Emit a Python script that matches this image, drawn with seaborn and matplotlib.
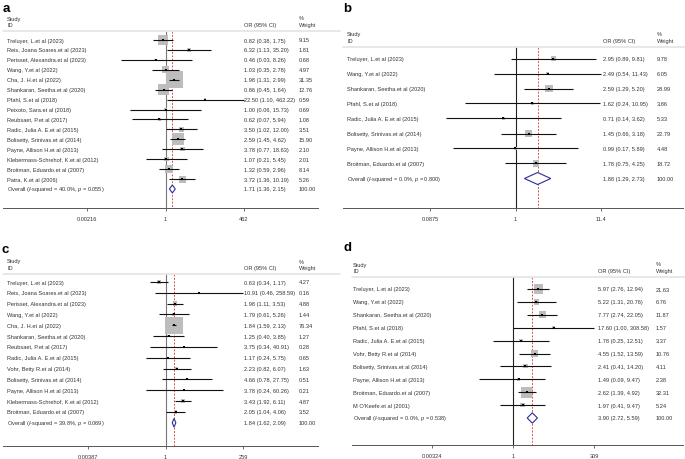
import numpy as np
import pandas as pd
import matplotlib
matplotlib.use("Agg")
import matplotlib.pyplot as plt
import matplotlib.transforms as mtransforms
from matplotlib.ticker import NullLocator
import seaborn as sns

# ---------------- data ----------------
a_studies = ["Treluyer, L.et al (2023)", "Reis, Joana Soares.et al (2023)",
             "Perisset, Alexandra.et al (2023)", "Wang, Y.et al (2022)",
             "Cha, J. H.et al (2022)", "Shankaran, Seetha.et al (2020)",
             "Pfahl, S.et al (2018)", "Peixoto, Sara.et al (2018)",
             "Reubsaet, P.et al (2017)", "Radic, Julia A. E.et al (2015)",
             "Bolisetty, Srinivas.et al (2014)", "Payne, Allison H.et al (2013)",
             "Klebermass-Schrehof, K.et al (2012)", "Broitman, Eduardo.et al (2007)",
             "Patra, K.et al (2006)"]
a_or = [0.82, 6.32, 0.46, 1.03, 1.98, 0.86, 22.50, 1.00, 0.62, 3.50, 2.59, 3.78, 1.07, 1.32, 3.72]
a_lo = [0.38, 1.13, 0.03, 0.35, 1.31, 0.45, 1.10, 0.06, 0.07, 1.02, 1.45, 0.77, 0.21, 0.59, 1.36]
a_hi = [1.75, 35.20, 8.26, 2.78, 2.99, 1.64, 462.22, 15.73, 5.94, 12.00, 4.62, 18.63, 5.45, 2.96, 10.19]
a_wt = [9.15, 1.81, 0.68, 4.97, 31.35, 12.76, 0.59, 0.69, 1.08, 3.51, 15.90, 2.10, 2.01, 8.14, 5.26]
a_overall = [1.71, 1.36, 2.15]
a_i2, a_p = "40.0%", "0.055"
a_ticks = [0.00216, 1, 462]
a_ticklabels = ["0.00216", "1", "462"]

b_studies = ["Treluyer, L.et al (2023)", "Wang, Y.et al (2022)",
             "Shankaran, Seetha.et al (2020)", "Pfahl, S.et al (2018)",
             "Radic, Julia A. E.et al (2015)", "Bolisetty, Srinivas.et al (2014)",
             "Payne, Allison H.et al (2013)", "Broitman, Eduardo.et al (2007)"]
b_or = [2.95, 2.49, 2.59, 1.62, 0.71, 1.45, 0.99, 1.78]
b_lo = [0.89, 0.54, 1.29, 0.24, 0.14, 0.66, 0.17, 0.75]
b_hi = [9.81, 11.43, 5.20, 10.95, 3.62, 3.18, 5.89, 4.25]
b_wt = [9.78, 6.05, 28.99, 3.86, 5.33, 22.79, 4.48, 18.72]
b_overall = [1.88, 1.29, 2.73]
b_i2, b_p = "0.0%", "0.800"
b_ticks = [0.0875, 1, 11.4]
b_ticklabels = ["0.0875", "1", "11.4"]

c_studies = ["Treluyer, L.et al (2023)", "Reis, Joana Soares.et al (2023)",
             "Perisset, Alexandra.et al (2023)", "Wang, Y.et al (2022)",
             "Cha, J. H.et al (2022)", "Shankaran, Seetha.et al (2020)",
             "Reubsaet, P.et al (2017)", "Radic, Julia A. E.et al (2015)",
             "Vohr, Betty R.et al (2014)", "Bolisetty, Srinivas.et al (2014)",
             "Payne, Allison H.et al (2013)", "Klebermass-Schrehof, K.et al (2012)",
             "Broitman, Eduardo.et al (2007)"]
c_or = [0.63, 10.91, 1.98, 1.79, 1.84, 1.25, 3.75, 1.17, 2.23, 4.66, 3.78, 3.43, 2.05]
c_lo = [0.34, 0.46, 1.11, 0.61, 1.59, 0.40, 0.34, 0.24, 0.82, 0.78, 0.24, 1.92, 1.04]
c_hi = [1.17, 258.59, 3.53, 5.26, 2.13, 3.85, 40.91, 5.75, 6.07, 27.75, 60.26, 6.11, 4.06]
c_wt = [4.27, 0.16, 4.88, 1.44, 76.34, 1.27, 0.28, 0.65, 1.63, 0.51, 0.21, 4.87, 3.52]
c_overall = [1.84, 1.62, 2.09]
c_i2, c_p = "39.8%", "0.069"
c_ticks = [0.00387, 1, 259]
c_ticklabels = ["0.00387", "1", "259"]

d_studies = ["Treluyer, L.et al (2023)", "Wang, Y.et al (2022)",
             "Shankaran, Seetha.et al (2020)", "Pfahl, S.et al (2018)",
             "Radic, Julia A. E.et al (2015)", "Vohr, Betty R.et al (2014)",
             "Bolisetty, Srinivas.et al (2014)", "Payne, Allison H.et al (2013)",
             "Broitman, Eduardo.et al (2007)", "M O'Keefe.et al (2001)"]
d_or = [5.97, 5.22, 7.77, 17.60, 1.78, 4.55, 2.41, 1.49, 2.62, 1.97]
d_lo = [2.76, 1.31, 2.74, 1.00, 0.25, 1.52, 0.41, 0.09, 1.39, 0.41]
d_hi = [12.94, 20.76, 22.05, 308.58, 12.51, 13.59, 14.20, 9.47, 4.92, 9.47]
d_wt = [21.63, 6.76, 11.87, 1.57, 3.37, 10.76, 4.11, 2.38, 32.31, 5.24]
d_overall = [3.90, 2.72, 5.59]
d_i2, d_p = "0.0%", "0.538"
d_ticks = [0.00324, 1, 309]
d_ticklabels = ["0.00324", "1", "309"]

# ---------------- style ----------------
sns.set_theme(style="white")
plt.rcParams["font.family"] = ["Liberation Sans", "DejaVu Sans"]
plt.rcParams["mathtext.fontset"] = "custom"
plt.rcParams["mathtext.rm"] = "Liberation Sans"
plt.rcParams["mathtext.it"] = "Liberation Sans:italic"

W, H = 685, 460
fig = plt.figure(figsize=(W / 100, H / 100), dpi=100)

FS = 4.1
TXT = "#333333"
BOX = "#bdbdbd"
NAVY = "#2b2b9a"
RED = "#d9534f"

layouts = {
    "a": dict(px0=0, pw=340, top=0, one=165.5, scale=12.75, row0=41, dy=9.93, axis=209,
              hline=32, txt=7, ortxt=244, wtxt=299, axl=3, axr=318, hl=(3, 340),
              boxc=3.05, lab=(6, 9), vcol="#777777"),
    "b": dict(px0=340, pw=345, top=0, one=515.5, scale=35.1, row0=59.5, dy=15.0, axis=209,
              hline=48, txt=347, ortxt=603, wtxt=657, axl=343, axr=683, hl=(343, 685),
              boxc=1.43, lab=(347, 9), vcol="#222222"),
    "c": dict(px0=0, pw=340, top=230, one=165.5, scale=14.0, row0=283, dy=10.83, axis=447,
              hline=275, txt=7, ortxt=244, wtxt=299, axl=3, axr=318, hl=(3, 340),
              boxc=2.0, lab=(5, 250), vcol="#777777"),
    "d": dict(px0=340, pw=345, top=230, one=513, scale=14.2, row0=290, dy=12.9, axis=446,
              hline=278, txt=353, ortxt=598, wtxt=656, axl=352, axr=683, hl=(352, 685),
              boxc=2.0, lab=(348, 248), vcol="#222222"),
}


def draw_panel(key, studies, ors, los, his, wts, overall, i2, p, ticks, ticklabels):
    L = layouts[key]
    ax = fig.add_axes([L["px0"] / W, 1 - L["axis"] / H, L["pw"] / W, (L["axis"] - L["top"]) / H])
    ax.set_xscale("log")

    def xd(px):
        return float(np.exp((px - L["one"]) / L["scale"]))

    def row(py):
        return (py - L["row0"]) / L["dy"]

    n = len(studies)
    df = pd.DataFrame({"study": studies, "or": ors, "lo": los, "hi": his, "wt": wts,
                       "row": np.arange(n, dtype=float)})
    k = (L["boxc"] * 0.72) ** 2
    # weight boxes (area proportional to weight)
    sns.scatterplot(data=df, x="or", y="row", size="wt", sizes=(0, k * 100), size_norm=(0, 100),
                    marker="s", color=BOX, linewidth=0, legend=False, ax=ax, zorder=2)
    # confidence intervals
    ax.hlines(df["row"], df["lo"], df["hi"], color="#111111", lw=0.8, zorder=3)
    # point estimates
    sns.scatterplot(data=df, x="or", y="row", marker="s", s=4.0, color="black",
                    linewidth=0, legend=False, ax=ax, zorder=4)

    r_head = row(L["hline"])
    r_axis = row(L["axis"])
    est, olo, ohi = overall
    ax.vlines(1, r_head, r_axis, color=L["vcol"], lw=0.8, zorder=1)
    ax.vlines(est, r_head, r_axis, color=RED, lw=0.7, linestyles=(0, (2, 1.5)), zorder=1)

    # overall diamond
    ro = float(n)
    ax.fill([olo, est, ohi, est, olo], [ro, ro - 0.4, ro, ro + 0.4, ro],
            facecolor="white", edgecolor=NAVY, lw=0.8, zorder=4)

    # texts
    tr = mtransforms.blended_transform_factory(ax.transAxes, ax.transData)

    def fx(px):
        return (px - L["px0"]) / L["pw"]

    for i, s in enumerate(studies):
        ax.text(fx(L["txt"]), i, s, transform=tr, fontsize=FS, color=TXT, va="center", ha="left")
        ax.text(fx(L["ortxt"]), i, f"{ors[i]:.2f} ({los[i]:.2f}, {his[i]:.2f})", transform=tr,
                fontsize=FS, color=TXT, va="center", ha="left")
        ax.text(fx(L["wtxt"]), i, f"{wts[i]:.2f}", transform=tr, fontsize=FS, color=TXT,
                va="center", ha="left")
    ax.text(fx(L["txt"]), ro, f"Overall ($I$-squared = {i2}, $p$ = {p})", transform=tr,
            fontsize=FS, color=TXT, va="center", ha="left")
    ax.text(fx(L["ortxt"]), ro, f"{est:.2f} ({olo:.2f}, {ohi:.2f})", transform=tr,
            fontsize=FS, color=TXT, va="center", ha="left")
    ax.text(fx(L["wtxt"]), ro, "100.00", transform=tr, fontsize=FS, color=TXT,
            va="center", ha="left")

    # header
    r1 = row(L["hline"] - 13)
    r2 = row(L["hline"] - 6.5)
    ax.text(fx(L["txt"]), r1, "Study", transform=tr, fontsize=FS, color=TXT, va="center")
    ax.text(fx(L["txt"]), r2, "ID", transform=tr, fontsize=FS, color=TXT, va="center")
    ax.text(fx(L["ortxt"]), r2, "OR (95% CI)", transform=tr, fontsize=FS, color=TXT, va="center")
    ax.text(fx(L["wtxt"]), r1, "%", transform=tr, fontsize=FS, color=TXT, va="center")
    ax.text(fx(L["wtxt"]), r2, "Weight", transform=tr, fontsize=FS, color=TXT, va="center")
    ax.plot([fx(L["hl"][0]), fx(L["hl"][1])], [r_head, r_head], transform=tr,
            color="#e4e4e4", lw=1.2, clip_on=False, zorder=1)

    # axes
    ax.set_xlim(xd(L["px0"]), xd(L["px0"] + L["pw"]))
    ax.set_ylim(r_axis, row(L["top"]))
    for sp in ["top", "left", "right"]:
        ax.spines[sp].set_visible(False)
    ax.spines["bottom"].set_bounds(xd(L["axl"]), xd(L["axr"]))
    ax.spines["bottom"].set_color("#555555")
    ax.spines["bottom"].set_linewidth(0.7)
    ax.set_xticks(ticks)
    ax.set_xticklabels(ticklabels)
    ax.xaxis.set_minor_locator(NullLocator())
    ax.tick_params(axis="x", which="major", bottom=True, length=2.2, width=0.6, color="#555555",
                   labelsize=FS, labelcolor=TXT, pad=3.5)
    ax.set_yticks([])
    ax.set_xlabel("")
    ax.set_ylabel("")
    ax.patch.set_alpha(0)

    fig.text(L["lab"][0] / W, 1 - L["lab"][1] / H, key, fontsize=9.5, fontweight="bold",
             color="black", ha="center", va="center")


draw_panel("a", a_studies, a_or, a_lo, a_hi, a_wt, a_overall, a_i2, a_p, a_ticks, a_ticklabels)
draw_panel("b", b_studies, b_or, b_lo, b_hi, b_wt, b_overall, b_i2, b_p, b_ticks, b_ticklabels)
draw_panel("c", c_studies, c_or, c_lo, c_hi, c_wt, c_overall, c_i2, c_p, c_ticks, c_ticklabels)
draw_panel("d", d_studies, d_or, d_lo, d_hi, d_wt, d_overall, d_i2, d_p, d_ticks, d_ticklabels)

fig.savefig("out.png", dpi=100)
